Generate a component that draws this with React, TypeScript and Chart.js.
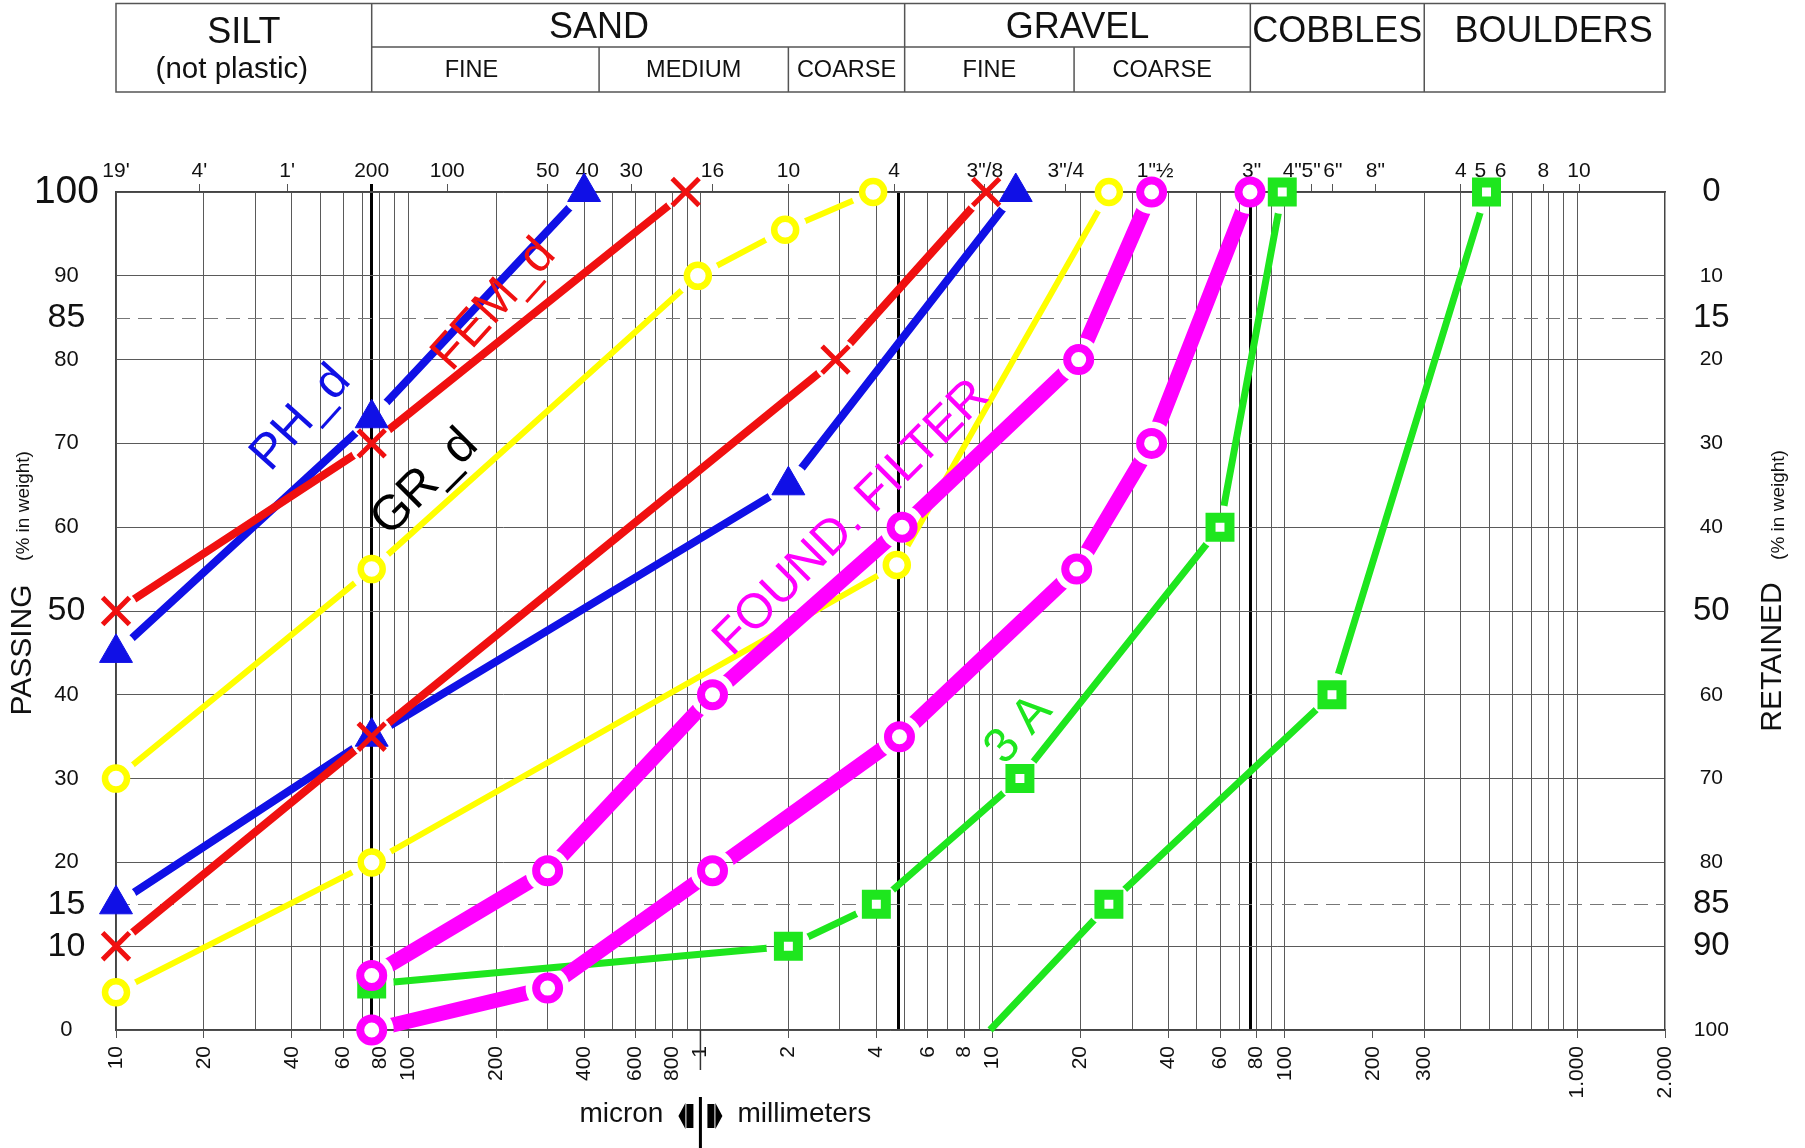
import React, { useEffect, useRef } from 'react';
import { Chart, registerables } from 'chart.js';

Chart.register(...registerables);

const FONT = "'Liberation Sans', Arial, Helvetica, sans-serif";
const CANVAS_W = 1805;
const CANVAS_H = 1148;

// ---------- axis definitions (grain size in mm, percent passing) ----------
const X_MIN = 0.01;
const X_MAX = 2000;

const gridLineSizes = [
  0.01, 0.02, 0.03, 0.04, 0.05, 0.06, 0.07, 0.08, 0.09,
  0.1, 0.2, 0.3, 0.4, 0.5, 0.6, 0.7, 0.8, 0.9,
  1, 2, 3, 4, 5, 6, 7, 8, 9,
  10, 20, 30, 40, 50, 60, 70, 80, 90,
  100, 300, 400, 500, 600, 700, 800, 900, 1000,
];
const thickLineSizes = [0.075, 4.76, 76.2];

const bottomLabelSizes = [0.01, 0.02, 0.04, 0.06, 0.08, 0.1, 0.2, 0.4, 0.6, 0.8, 1, 2, 4, 6, 8, 10, 20, 40, 60, 80, 100, 200, 300, 1000, 2000];
const bottomLabelTexts = ['10', '20', '40', '60', '80', '100', '200', '400', '600', '800', '1', '2', '4', '6', '8', '10', '20', '40', '60', '80', '100', '200', '300', '1.000', '2.000'];

const topLabelSizes = [0.01, 0.0193, 0.0385, 0.075, 0.136, 0.3, 0.41, 0.58, 1.1, 2, 4.6, 9.4, 17.8, 36, 77, 106, 123, 146, 204, 400, 467, 548, 767, 1016];
const topLabelTexts = ["19'", "4'", "1'", '200', '100', '50', '40', '30', '16', '10', '4', '3"/8', '3"/4', '1"½', '3"', '4"', '5"', '6"', '8"', '4', '5', '6', '8', '10'];
const topBlackTicks = ['200', '3"'];

const passingTicks = [0, 10, 15, 20, 30, 40, 50, 60, 70, 80, 85, 90, 100];
const passingBigTicks = [10, 15, 50, 85];
const retainedTicks = [0, 10, 15, 20, 30, 40, 50, 60, 70, 80, 85, 90, 100];
const retainedBigTicks = [0, 15, 50, 85, 90];
const dashedLevels = [15, 85];

// ---------- classification table ----------
const mainBounds = [0.01, 0.075, 5, 76.2, 300, 2000];
const mainNames = ['SILT', 'SAND', 'GRAVEL', 'COBBLES', 'BOULDERS'];
const sandSubBounds = [0.075, 0.45, 2, 5];
const sandSubNames = ['FINE', 'MEDIUM', 'COARSE'];
const gravelSubBounds = [5, 19, 76.2];
const gravelSubNames = ['FINE', 'COARSE'];

// ---------- series (size mm / % passing) ----------
const phUpperSize = [0.01, 0.075, 0.4];
const phUpperPass = [45, 73, 100];
const phLowerSize = [0.01, 0.075, 2, 12];
const phLowerPass = [15, 35, 65, 100];

const femUpperSize = [0.01, 0.075, 0.89];
const femUpperPass = [50, 70, 100];
const femLowerSize = [0.01, 0.075, 2.9, 9.5];
const femLowerPass = [10, 35, 80, 100];

const grUpperSize = [0.01, 0.075, 0.98, 1.95, 3.9];
const grUpperPass = [30, 55, 90, 95.5, 100];
const grLowerSize = [0.01, 0.075, 4.7, 25];
const grLowerPass = [4.5, 20, 55.5, 100];

const ffUpperSize = [0.075, 0.3, 1.1, 4.9, 19.7, 35];
const ffUpperPass = [6.5, 19, 40, 60, 80, 100];
const ffLowerSize = [0.075, 0.3, 1.1, 4.8, 19.4, 35, 76];
const ffLowerPass = [0, 5, 19, 35, 55, 70, 100];

const a3UpperSize = [0.075, 2, 4, 12.4, 60, 98];
const a3UpperPass = [5.5, 10, 15, 30, 60, 100];
const a3LowerSize = [9.8, 25, 145, 490];
const a3LowerPass = [0, 15, 40, 100];

const BLUE = '#1010e6';
const RED = '#f01010';
const YELLOW = '#ffff00';
const MAGENTA = '#ff00ff';
const GREEN = '#1ee61e';

const STYLES: Record<string, any> = {
  green: { color: GREEN, lineWidth: 7, pointStyle: 'rect', radius: 13.4, pbw: 10, bg: '#ffffff' },
  yellow: { color: YELLOW, lineWidth: 6, pointStyle: 'circle', radius: 11, pbw: 6.5, bg: '#ffffff' },
  magenta: { color: MAGENTA, lineWidth: 15, pointStyle: 'circle', radius: 11.5, pbw: 8, bg: '#ffffff' },
  blue: { color: BLUE, lineWidth: 8, pointStyle: 'triangle', radius: 19, pbw: 1, bg: BLUE },
  red: { color: RED, lineWidth: 8, pointStyle: 'crossRot', radius: 19, pbw: 5, bg: RED },
};

// drawing order: first entries are drawn first (underneath)
const curves = [
  { name: '3A (1)', family: 'green', sizes: a3UpperSize, pass: a3UpperPass, noFirstMarker: false },
  { name: '3A (2)', family: 'green', sizes: a3LowerSize, pass: a3LowerPass, noFirstMarker: true },
  { name: 'GR_d (1)', family: 'yellow', sizes: grUpperSize, pass: grUpperPass, noFirstMarker: false },
  { name: 'GR_d (2)', family: 'yellow', sizes: grLowerSize, pass: grLowerPass, noFirstMarker: false },
  { name: 'FOUND. FILTER (1)', family: 'magenta', sizes: ffUpperSize, pass: ffUpperPass, noFirstMarker: false },
  { name: 'FOUND. FILTER (2)', family: 'magenta', sizes: ffLowerSize, pass: ffLowerPass, noFirstMarker: false },
  { name: 'PH_d (1)', family: 'blue', sizes: phUpperSize, pass: phUpperPass, noFirstMarker: false },
  { name: 'PH_d (2)', family: 'blue', sizes: phLowerSize, pass: phLowerPass, noFirstMarker: false },
  { name: 'FEM_d (1)', family: 'red', sizes: femUpperSize, pass: femUpperPass, noFirstMarker: false },
  { name: 'FEM_d (2)', family: 'red', sizes: femLowerSize, pass: femLowerPass, noFirstMarker: false },
];

const curveLabels = [
  { text: 'PH_d', x: 0.043, y: 73, color: BLUE, angle: -48 },
  { text: 'FEM_d', x: 0.197, y: 86.5, color: RED, angle: -48 },
  { text: 'GR_d', x: 0.114, y: 65.3, color: '#000000', angle: -45 },
  { text: 'FOUND. FILTER', x: 3.3, y: 61.1, color: MAGENTA, angle: -45 },
  { text: '3 A', x: 12.3, y: 35.8, color: GREEN, angle: -48 },
];

const HALO = 22;

const xTickSizes = Array.from(new Set([...gridLineSizes, ...thickLineSizes, ...bottomLabelSizes])).sort((a, b) => a - b);
const near = (a: number, b: number) => Math.abs(a - b) < 1e-9 * Math.max(1, Math.abs(b));
const bottomLabelFor = (v: number) => {
  const i = bottomLabelSizes.findIndex((s) => near(s, v));
  return i >= 0 ? bottomLabelTexts[i] : '';
};

const haloPlugin = {
  id: 'haloClip',
  beforeDatasetDraw(chart: any, args: any) {
    const ds = chart.data.datasets[args.index];
    if (ds._ptIndex === undefined) return;
    const meta = chart.getDatasetMeta(ds._ptIndex);
    const ctx = chart.ctx;
    ctx.save();
    ctx.beginPath();
    ctx.rect(0, 0, chart.width, chart.height);
    meta.data.forEach((el: any) => {
      const r = el.options ? el.options.radius : 0;
      if (!r || r <= 0) return;
      ctx.moveTo(el.x + HALO, el.y);
      ctx.arc(el.x, el.y, HALO, 0, Math.PI * 2);
    });
    ctx.clip('evenodd');
  },
  afterDatasetDraw(chart: any, args: any) {
    const ds = chart.data.datasets[args.index];
    if (ds._ptIndex === undefined) return;
    chart.ctx.restore();
  },
};

const decorPlugin = {
  id: 'decor',
  beforeDraw(chart: any) {
    const ctx = chart.ctx;
    ctx.save();
    ctx.fillStyle = '#ffffff';
    ctx.fillRect(0, 0, chart.width, chart.height);

    const xs = chart.scales.x;
    const px = (v: number) => xs.getPixelForValue(v);
    const top = 3.5;
    const mid = 47;
    const bot = 92;
    ctx.strokeStyle = '#555555';
    ctx.lineWidth = 1.5;
    ctx.strokeRect(px(mainBounds[0]), top, px(mainBounds[mainBounds.length - 1]) - px(mainBounds[0]), bot - top);
    ctx.beginPath();
    for (let i = 1; i < mainBounds.length - 1; i++) {
      ctx.moveTo(px(mainBounds[i]), top);
      ctx.lineTo(px(mainBounds[i]), bot);
    }
    ctx.moveTo(px(0.075), mid);
    ctx.lineTo(px(76.2), mid);
    [sandSubBounds, gravelSubBounds].forEach((b) => {
      for (let i = 1; i < b.length - 1; i++) {
        ctx.moveTo(px(b[i]), mid);
        ctx.lineTo(px(b[i]), bot);
      }
    });
    ctx.stroke();

    ctx.fillStyle = '#111111';
    ctx.textAlign = 'center';
    ctx.textBaseline = 'middle';
    const cx = (a: number, b: number) => (px(a) + px(b)) / 2;
    ctx.font = `36px ${FONT}`;
    ctx.fillText(mainNames[0], cx(mainBounds[0], mainBounds[1]), 33);
    ctx.fillText(mainNames[1], px(sandSubBounds[1]), 28);
    ctx.fillText(mainNames[2], cx(mainBounds[2], mainBounds[3]), 28);
    ctx.fillText(mainNames[3], cx(mainBounds[3], mainBounds[4]), 32);
    ctx.fillText(mainNames[4], cx(mainBounds[4], mainBounds[5]) + 9, 32);
    ctx.font = `29.5px ${FONT}`;
    ctx.fillText('(not plastic)', cx(mainBounds[0], mainBounds[1]) - 12, 70);
    ctx.font = `23.5px ${FONT}`;
    sandSubNames.forEach((n, i) => ctx.fillText(n, cx(sandSubBounds[i], sandSubBounds[i + 1]) - (i === 0 ? 14 : 0), 71));
    gravelSubNames.forEach((n, i) => ctx.fillText(n, cx(gravelSubBounds[i], gravelSubBounds[i + 1]), 71));
    ctx.restore();
  },
  beforeDatasetsDraw(chart: any) {
    const ctx = chart.ctx;
    const ys = chart.scales.y;
    const area = chart.chartArea;
    ctx.save();
    ctx.strokeStyle = '#777777';
    ctx.lineWidth = 1.2;
    ctx.setLineDash([14, 8]);
    dashedLevels.forEach((lv) => {
      const y = Math.round(ys.getPixelForValue(lv)) + 0.5;
      ctx.beginPath();
      ctx.moveTo(area.left, y);
      ctx.lineTo(area.right, y);
      ctx.stroke();
    });
    ctx.restore();
  },
  afterDraw(chart: any) {
    const ctx = chart.ctx;
    const xs = chart.scales.x;
    const ys = chart.scales.y;
    const area = chart.chartArea;
    ctx.save();
    // curve names
    ctx.textAlign = 'center';
    ctx.textBaseline = 'middle';
    ctx.font = `49px ${FONT}`;
    curveLabels.forEach((l) => {
      ctx.save();
      ctx.translate(xs.getPixelForValue(l.x), ys.getPixelForValue(l.y));
      ctx.rotate((l.angle * Math.PI) / 180);
      ctx.fillStyle = l.color;
      ctx.fillText(l.text, 0, 0);
      ctx.restore();
    });

    // axis titles
    const vText = (t: string, x: number, y: number, size: number) => {
      ctx.save();
      ctx.translate(x, y);
      ctx.rotate(-Math.PI / 2);
      ctx.font = `${size}px ${FONT}`;
      ctx.fillStyle = '#111111';
      ctx.fillText(t, 0, 0);
      ctx.restore();
    };
    vText('PASSING', 23, 650, 30);
    vText('(% in weight)', 24, 506, 19);
    vText('RETAINED', 1773, 657, 30);
    vText('(% in weight)', 1779, 505, 19);

    // micron | millimeters
    const d = xs.getPixelForValue(1);
    ctx.strokeStyle = '#333333';
    ctx.lineWidth = 1.5;
    ctx.beginPath();
    ctx.moveTo(d, area.bottom);
    ctx.lineTo(d, area.bottom + 40);
    ctx.stroke();
    ctx.fillStyle = '#000000';
    ctx.fillRect(d - 1.5, 1097, 3, 51);
    const cy = 1116;
    ctx.fillRect(d - 14, cy - 12, 7, 24);
    ctx.fillRect(d + 7, cy - 12, 7, 24);
    ctx.beginPath();
    ctx.moveTo(d - 22, cy);
    ctx.lineTo(d - 15, cy - 13);
    ctx.lineTo(d - 15, cy + 13);
    ctx.closePath();
    ctx.moveTo(d + 22, cy);
    ctx.lineTo(d + 15, cy - 13);
    ctx.lineTo(d + 15, cy + 13);
    ctx.closePath();
    ctx.fill();
    ctx.font = `28px ${FONT}`;
    ctx.fillStyle = '#111111';
    ctx.textBaseline = 'alphabetic';
    ctx.textAlign = 'right';
    ctx.fillText('micron', d - 37, 1122);
    ctx.textAlign = 'left';
    ctx.fillText('millimeters', d + 37, 1122);
    ctx.restore();
  },
};

function buildDatasets() {
  const n = curves.length;
  const lineSets: any[] = [];
  const pointSets: any[] = [];
  curves.forEach((c, i) => {
    const st = STYLES[c.family];
    const data = c.sizes.map((x, j) => ({ x, y: c.pass[j] }));
    lineSets.push({
      label: c.name,
      data,
      borderColor: st.color,
      backgroundColor: st.color,
      borderWidth: st.lineWidth,
      pointRadius: 0,
      pointHoverRadius: 0,
      tension: 0,
      fill: false,
      clip: false,
      order: 100 - i,
      _ptIndex: n + i,
    });
    pointSets.push({
      label: c.name + ' points',
      data,
      showLine: false,
      pointStyle: st.pointStyle,
      pointRadius: (ctx: any) => (c.noFirstMarker && ctx.dataIndex === 0 ? 0 : st.radius),
      pointHoverRadius: (ctx: any) => (c.noFirstMarker && ctx.dataIndex === 0 ? 0 : st.radius),
      pointBorderWidth: st.pbw,
      pointBackgroundColor: st.bg,
      pointBorderColor: st.color,
      borderColor: st.color,
      backgroundColor: st.bg,
      clip: false,
      order: 50 - i,
    });
  });
  return [...lineSets, ...pointSets];
}

export default function App() {
  const ref = useRef<HTMLCanvasElement | null>(null);
  useEffect(() => {
    if (!ref.current) return;
    const chart = new Chart(ref.current, {
      type: 'line',
      data: { datasets: buildDatasets() },
      options: {
        responsive: false,
        maintainAspectRatio: false,
        devicePixelRatio: 1,
        animation: false,
        events: [],
        layout: { padding: 0 },
        plugins: { legend: { display: false }, tooltip: { enabled: false }, title: { display: false } },
        scales: {
          x: {
            type: 'logarithmic',
            position: 'bottom',
            min: X_MIN,
            max: X_MAX,
            afterBuildTicks: (s: any) => {
              s.ticks = xTickSizes.map((v) => ({ value: v }));
            },
            afterFit: (s: any) => {
              s.height = 118;
            },
            ticks: {
              autoSkip: false,
              minRotation: 90,
              maxRotation: 90,
              padding: 8,
              color: '#111111',
              font: { family: FONT, size: 21 },
              callback: (_v: any, i: number) => bottomLabelFor(xTickSizes[i]),
            },
            grid: {
              drawOnChartArea: true,
              tickLength: 8,
              color: (c: any) => {
                const v = c.tick ? c.tick.value : NaN;
                if (thickLineSizes.some((t) => near(t, v))) return '#000000';
                if (gridLineSizes.some((t) => near(t, v))) return '#5a5a5a';
                return 'rgba(0,0,0,0)';
              },
              lineWidth: (c: any) => {
                const v = c.tick ? c.tick.value : NaN;
                return thickLineSizes.some((t) => near(t, v)) ? 3 : 1;
              },
              tickColor: (c: any) => {
                const v = c.tick ? c.tick.value : NaN;
                return bottomLabelFor(v) ? '#555555' : 'rgba(0,0,0,0)';
              },
              tickWidth: 1,
            },
            border: { display: true, color: '#444444', width: 1.5 },
          },
          x2: {
            type: 'logarithmic',
            position: 'top',
            min: X_MIN,
            max: X_MAX,
            afterBuildTicks: (s: any) => {
              s.ticks = topLabelSizes.map((v) => ({ value: v }));
            },
            afterFit: (s: any) => {
              s.height = 192;
            },
            ticks: {
              autoSkip: false,
              minRotation: 0,
              maxRotation: 0,
              padding: 0,
              color: '#111111',
              font: { family: FONT, size: 21 },
              callback: (_v: any, i: number) => topLabelTexts[i],
            },
            grid: {
              drawOnChartArea: false,
              tickLength: 8,
              tickColor: (c: any) => {
                if (c.index === 0) return 'rgba(0,0,0,0)';
                return topBlackTicks.includes(topLabelTexts[c.index]) ? '#000000' : '#555555';
              },
              tickWidth: (c: any) => (topBlackTicks.includes(topLabelTexts[c.index]) ? 3 : 1),
            },
            border: { display: true, color: '#444444', width: 1.5 },
          },
          y: {
            type: 'linear',
            position: 'left',
            min: 0,
            max: 100,
            afterBuildTicks: (s: any) => {
              s.ticks = passingTicks.map((v) => ({ value: v }));
            },
            afterFit: (s: any) => {
              s.width = 116;
            },
            ticks: {
              padding: 17,
              crossAlign: 'center',
              color: '#111111',
              font: (c: any) => {
                const v = c.tick ? c.tick.value : 0;
                if (v === 100) return { family: FONT, size: 39 };
                return { family: FONT, size: passingBigTicks.includes(v) ? 34 : 22 };
              },
              callback: (v: any) => String(v),
            },
            grid: {
              drawTicks: false,
              color: (c: any) => {
                const v = c.tick ? c.tick.value : NaN;
                return dashedLevels.includes(v) ? 'rgba(0,0,0,0)' : '#5a5a5a';
              },
              lineWidth: 1,
            },
            border: { display: true, color: '#444444', width: 1.5 },
          },
          y2: {
            type: 'linear',
            position: 'right',
            min: 0,
            max: 100,
            reverse: true,
            afterBuildTicks: (s: any) => {
              s.ticks = retainedTicks.map((v) => ({ value: v }));
            },
            afterFit: (s: any) => {
              s.width = 140;
            },
            ticks: {
              padding: 28,
              crossAlign: 'center',
              color: '#111111',
              font: (c: any) => {
                const v = c.tick ? c.tick.value : 0;
                return { family: FONT, size: retainedBigTicks.includes(v) ? 33 : 21 };
              },
              callback: (v: any) => String(v),
            },
            grid: { drawOnChartArea: false, drawTicks: false },
            border: { display: true, color: '#444444', width: 1.5 },
          },
        },
      } as any,
      plugins: [haloPlugin as any, decorPlugin as any],
    });
    return () => chart.destroy();
  }, []);

  return (
    <div style={{ position: 'absolute', left: 0, top: 0, width: CANVAS_W, height: CANVAS_H, background: '#ffffff' }}>
      <canvas ref={ref} width={CANVAS_W} height={CANVAS_H} style={{ display: 'block' }} />
    </div>
  );
}
